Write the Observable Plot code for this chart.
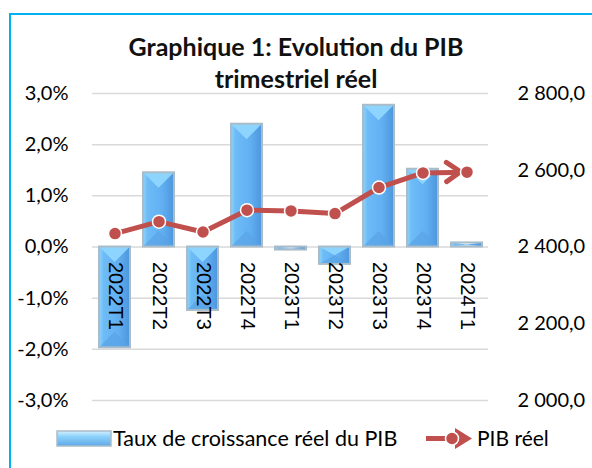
<!DOCTYPE html>
<html>
<head>
<meta charset="utf-8">
<script src="https://cdn.jsdelivr.net/npm/d3@7"></script>
<script src="https://cdn.jsdelivr.net/npm/@observablehq/plot@0.6"></script>
<style>
  html, body { margin: 0; padding: 0; background: #fff; overflow: hidden; }
  #wrap { position: relative; width: 592px; height: 468px; overflow: hidden; font-family: Lato, "Noto Sans", sans-serif; }
  #frame { position: absolute; left: 9px; top: 13px; width: 620px; height: 500px; border: 2px solid #00b0f0; box-sizing: border-box; }
  #title { position: absolute; left: 0; width: 592px; top: 30px; text-align: center; font-weight: bold; font-size: 25px; line-height: 32px; color: #111; }
  #chart { position: absolute; left: 0; top: 0; }
  #legend { position: absolute; left: 0; top: 424px; width: 592px; height: 30px; }
</style>
</head>
<body>
<div id="wrap">
  <div id="frame"></div>
  <div id="chart"></div>
  <div id="title">Graphique 1: Evolution du PIB<br>trimestriel réel</div>
  <div id="legend"></div>
</div>
<script>
const categories = ["2022T1", "2022T2", "2022T3", "2022T4", "2023T1", "2023T2", "2023T3", "2023T4", "2024T1"];
const growth = [-1.97, 1.45, -1.24, 2.40, -0.06, -0.34, 2.77, 1.52, 0.08];
const pib = [2435, 2466, 2439, 2496, 2494, 2487, 2555, 2593, 2595];
const leftTicks = [-3, -2, -1, 0, 1, 2, 3];
const rightTicks = [2000, 2200, 2400, 2600, 2800];
const seriesBar = "Taux de croissance réel du PIB";
const seriesLine = "PIB réel";

const locale = d3.formatLocale({decimal: ",", thousands: " ", grouping: [3], currency: ["", ""], minus: "-"});
const fmtPct = locale.format(".1f");
const fmtNum = locale.format(",.1f");

// right axis mapped onto the left scale: 2000..2800 -> -3..3
const toLeft = v => (v - 2400) * 3 / 400;
const fromLeft = p => 2400 + p * 400 / 3;

const data = categories.map((c, i) => ({cat: c, growth: growth[i], pib: pib[i]}));

const defs = () => {
  const d = d3.create("svg:defs");
  const g = d.append("linearGradient").attr("id", "barGrad").attr("x1", 0).attr("x2", 1).attr("y1", 0).attr("y2", 0);
  [["0%", "#92d4fb"], ["14%", "#6dbcf7"], ["60%", "#62b0f2"], ["100%", "#4d96dc"]].forEach(([o, c]) => g.append("stop").attr("offset", o).attr("stop-color", c));
  return d.node();
};

const bevels = (index, scales) => {
  const g = d3.create("svg:g");
  const w = scales.x.bandwidth();
  const y0 = scales.y(0);
  for (const d of data) {
    const x0 = scales.x(d.cat);
    const y1 = scales.y(d.growth);
    const yt = Math.min(y0, y1), yb = Math.max(y0, y1);
    const h = yb - yt;
    const depth = Math.min(w / 2, h / 2);
    g.append("path").attr("d", `M${x0},${yt}L${x0 + w},${yt}L${x0 + w / 2},${yt + depth}Z`)
      .attr("fill", h < 6 ? "#eef7fd" : "#8fd6ff").attr("opacity", 0.95);
    g.append("path").attr("d", `M${x0},${yb}L${x0 + w},${yb}L${x0 + w / 2},${yb - depth}Z`)
      .attr("fill", h < 6 ? "#e6f2fa" : "#5aa3e6").attr("opacity", 0.7);
    g.append("rect").attr("x", x0).attr("y", yt).attr("width", w).attr("height", h)
      .attr("fill", "none").attr("stroke", "#a9bcc8").attr("stroke-width", 2);
  }
  return g.node();
};

// open chevron arrowhead at the end of the PIB line
const arrowHead = (index, scales) => {
  const n = data.length;
  const xa = scales.x(data[n - 2].cat) + scales.x.bandwidth() / 2;
  const ya = scales.y(toLeft(data[n - 2].pib));
  const xb = scales.x(data[n - 1].cat) + scales.x.bandwidth() / 2;
  const yb = scales.y(toLeft(data[n - 1].pib));
  const ang = Math.atan2(yb - ya, xb - xa);
  const tipX = xb - 6 * Math.cos(ang), tipY = yb - 6 * Math.sin(ang);
  const L = 17, spread = 0.6;
  const p1 = [tipX - L * Math.cos(ang - spread), tipY - L * Math.sin(ang - spread)];
  const p2 = [tipX - L * Math.cos(ang + spread), tipY - L * Math.sin(ang + spread)];
  const g = d3.create("svg:path")
    .attr("d", `M${p1[0]},${p1[1]}L${tipX},${tipY}L${p2[0]},${p2[1]}`)
    .attr("fill", "none").attr("stroke", "#c0504d").attr("stroke-width", 5)
    .attr("stroke-linecap", "round").attr("stroke-linejoin", "round");
  return g.node();
};

const chart = Plot.plot({
  width: 592,
  height: 468,
  marginLeft: 92,
  marginRight: 104,
  marginTop: 93,
  marginBottom: 68,
  style: {fontFamily: "Lato, 'Noto Sans', sans-serif", background: "transparent"},
  x: {type: "band", domain: categories, paddingInner: 0.3, paddingOuter: 0.15, axis: null},
  y: {domain: [-3, 3], axis: null},
  marks: [
    defs,
    Plot.ruleY(leftTicks, {stroke: "#d9d9d9", strokeWidth: 1.5}),
    Plot.barY(data, {x: "cat", y: "growth", fill: "url(#barGrad)"}),
    bevels,
    Plot.text(data, {x: "cat", y: () => 0, text: "cat", rotate: 90, textAnchor: "start", lineAnchor: "middle", dy: 15, fontSize: 20, fill: "#000", fontFamily: "'Liberation Sans', Arial, sans-serif"}),
    Plot.axisY(leftTicks, {anchor: "left", label: null, tickSize: 0, tickPadding: 24, tickFormat: d => fmtPct(d) + "%", fontSize: 20, fill: "#000"}),
    Plot.axisY(rightTicks.map(toLeft), {anchor: "right", label: null, tickSize: 0, tickPadding: 29, tickFormat: d => fmtNum(Math.round(fromLeft(d))), fontSize: 20, fill: "#000"}),
    Plot.line(data, {x: "cat", y: d => toLeft(d.pib), stroke: "#c0504d", strokeWidth: 5}),
    arrowHead,
    Plot.dot(data, {x: "cat", y: d => toLeft(d.pib), r: 6.5, fill: "#c0504d", stroke: "#fff", strokeWidth: 1.5})
  ]
});
document.getElementById("chart").appendChild(chart);

// legend
const lg = d3.select("#legend").append("svg").attr("width", 592).attr("height", 30)
  .style("font-family", "Lato, 'Noto Sans', sans-serif");
const ld = lg.append("defs").append("linearGradient").attr("id", "legGrad").attr("x1", 0).attr("x2", 0).attr("y1", 0).attr("y2", 1);
[["0%", "#d6f0ff"], ["35%", "#8fd3fb"], ["100%", "#5fa8e8"]].forEach(([o, c]) => ld.append("stop").attr("offset", o).attr("stop-color", c));
lg.append("rect").attr("x", 57).attr("y", 7).attr("width", 54).attr("height", 15).attr("fill", "url(#legGrad)").attr("stroke", "#a9bcc8").attr("stroke-width", 1.5);
lg.append("text").attr("x", 113).attr("y", 22).attr("font-size", 21.5).text(seriesBar);
lg.append("line").attr("x1", 426).attr("x2", 456).attr("y1", 14.5).attr("y2", 14.5).attr("stroke", "#c0504d").attr("stroke-width", 5);
lg.append("path").attr("d", "M455,4L472,14.5L455,25Z").attr("fill", "#c0504d");
lg.append("circle").attr("cx", 452).attr("cy", 14.5).attr("r", 6.5).attr("fill", "#c0504d").attr("stroke", "#fff").attr("stroke-width", 1.5);
lg.append("text").attr("x", 477).attr("y", 22).attr("font-size", 21).text(seriesLine);
</script>
</body>
</html>
